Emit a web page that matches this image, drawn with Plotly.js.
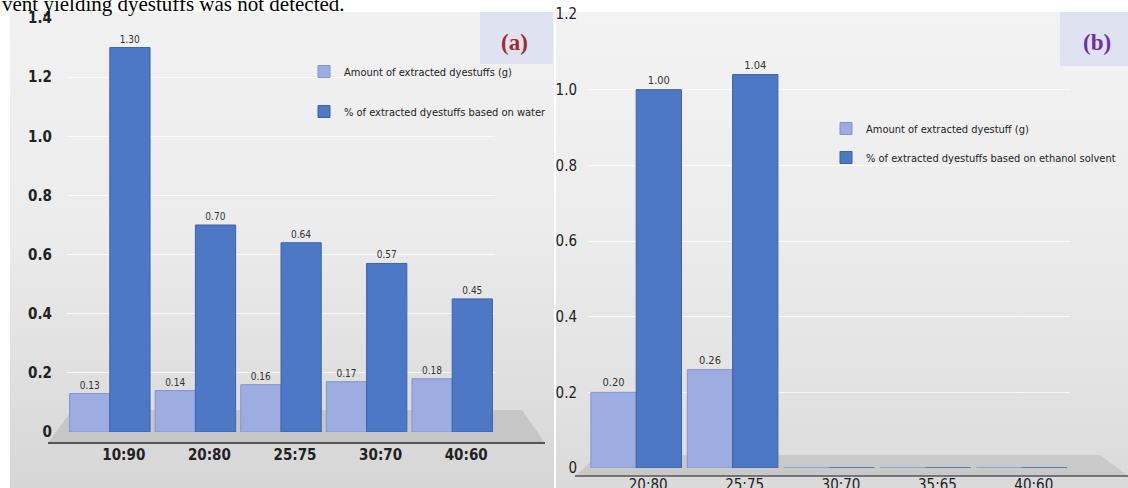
<!DOCTYPE html>
<html>
<head>
<meta charset="utf-8">
<script src="https://cdn.plot.ly/plotly-3.0.1.min.js"></script>
<style>
  html, body { margin: 0; padding: 0; background: #ffffff; width: 1128px; height: 488px; overflow: hidden; }
  #bgA { position: absolute; left: 10px; top: 12px; width: 544px; height: 476px;
         background: linear-gradient(180deg, #f1f1f1 0%, #ececec 45%, #dedede 80%, #d6d6d6 100%); }
  #bgB { position: absolute; left: 556px; top: 12px; width: 572px; height: 476px;
         background: linear-gradient(180deg, #f3f3f3 0%, #ececec 45%, #e2e2e2 80%, #dadada 100%); }
  #chart { position: absolute; left: 0; top: 0; width: 1128px; height: 488px; }
</style>
</head>
<body>
<div id="bgA"></div>
<div id="bgB"></div>
<div id="chart"></div>
<script>
// Panel (a)
const categoriesA = ['10:90', '20:80', '25:75', '30:70', '40:60'];
const amountA = [0.13, 0.14, 0.16, 0.17, 0.18];
const percentA = [1.30, 0.70, 0.64, 0.57, 0.45];
const seriesNamesA = ['Amount of extracted dyestuffs (g)', '% of extracted dyestuffs based on water'];

// Panel (b)
const categoriesB = ['20:80', '25:75', '30:70', '35:65', '40:60'];
const amountB = [0.20, 0.26, 0, 0, 0];
const percentB = [1.00, 1.04, 0, 0, 0];
const seriesNamesB = ['Amount of extracted dyestuff (g)', '% of extracted dyestuffs based on ethanol solvent'];

const tickValsA = [0, 0.2, 0.4, 0.6, 0.8, 1.0, 1.2, 1.4];
const tickTextA = ['0', '0.2', '0.4', '0.6', '0.8', '1.0', '1.2', '1.4'];
const tickValsB = [0, 0.2, 0.4, 0.6, 0.8, 1.0, 1.2];
const tickTextB = ['0', '0.2', '0.4', '0.6', '0.8', '1.0', '1.2'];

const LIGHT = '#9dade2';
const DARK = '#4d78c6';
const FONT = '"DejaVu Sans Condensed", "DejaVu Sans", sans-serif';
const SERIF = '"Liberation Serif", "DejaVu Serif", serif';
const lbl = arr => arr.map(v => v > 0 ? v.toFixed(2) : '');

const W = 1128, H = 488;
const px = x => x / W;
const py = y => (H - y) / H;

function barTrace(cats, vals, name, xa, ya, color, lineColor, lg, group, fs) {
  return { type: 'bar', x: cats, y: vals, name: name, xaxis: xa, yaxis: ya,
    marker: { color: color, line: { color: lineColor, width: 1 } },
    text: lbl(vals), textposition: 'outside', cliponaxis: false,
    textfont: { family: FONT, size: fs, color: '#333' },
    legend: lg, legendgroup: group };
}

const traces = [
  barTrace(categoriesA, amountA, seriesNamesA[0], 'x', 'y', LIGHT, '#8294d0', 'legend', 'a1', 10),
  barTrace(categoriesA, percentA, seriesNamesA[1], 'x', 'y', DARK, '#3d62a8', 'legend', 'a2', 10),
  barTrace(categoriesB, amountB, seriesNamesB[0], 'x2', 'y2', LIGHT, '#8294d0', 'legend2', 'b1', 11),
  barTrace(categoriesB, percentB, seriesNamesB[1], 'x2', 'y2', DARK, '#3d62a8', 'legend2', 'b2', 11)
];

const layout = {
  width: W, height: H,
  margin: { l: 0, r: 0, t: 0, b: 0 },
  paper_bgcolor: 'rgba(0,0,0,0)',
  plot_bgcolor: 'rgba(0,0,0,0)',
  barmode: 'group',
  bargap: 0.06,
  bargroupgap: 0,
  font: { family: FONT, color: '#222' },
  xaxis: {
    domain: [px(67), px(495)], anchor: 'y',
    tickfont: { family: FONT, size: 15, color: '#222', weight: 'bold' },
    ticks: '', showline: false,
    ticklabelstandoff: 12, ticklabelshift: 14
  },
  yaxis: {
    domain: [py(432), py(18)], anchor: 'x', range: [0, 1.4],
    tickvals: tickValsA, ticktext: tickTextA,
    tickfont: { family: FONT, size: 15, color: '#222', weight: 'bold' },
    showgrid: true, gridcolor: 'rgba(255,255,255,0.75)', gridwidth: 1,
    zeroline: false, showline: false, ticks: '', ticklabelstandoff: 14
  },
  xaxis2: {
    domain: [px(588), px(1070)], anchor: 'y2',
    tickfont: { family: FONT, size: 15, color: '#222' },
    ticks: '', showline: false,
    ticklabelstandoff: 6, ticklabelshift: 12
  },
  yaxis2: {
    domain: [py(468), py(14)], anchor: 'x2', range: [0, 1.2],
    tickvals: tickValsB, ticktext: tickTextB,
    tickfont: { family: FONT, size: 15, color: '#222' },
    showgrid: true, gridcolor: 'rgba(255,255,255,0.75)', gridwidth: 1,
    zeroline: false, showline: false, ticks: '', ticklabelstandoff: 10
  },
  legend: {
    x: px(304), y: py(57), xanchor: 'left', yanchor: 'top',
    bgcolor: 'rgba(0,0,0,0)', tracegroupgap: 21,
    font: { family: FONT, size: 11, color: '#222' },
    itemwidth: 30
  },
  legend2: {
    x: px(826), y: py(114), xanchor: 'left', yanchor: 'top',
    bgcolor: 'rgba(0,0,0,0)', tracegroupgap: 10,
    font: { family: FONT, size: 11, color: '#222' },
    itemwidth: 30
  },
  showlegend: true,
  shapes: [
    { type: 'path', xref: 'paper', yref: 'paper', layer: 'below',
      path: `M ${px(48)} ${py(443)} L ${px(545)} ${py(443)} L ${px(522)} ${py(410)} L ${px(72)} ${py(410)} Z`,
      fillcolor: '#c6c6c6', line: { width: 0 } },
    { type: 'line', xref: 'paper', yref: 'paper', layer: 'below',
      x0: px(48), x1: px(545), y0: py(443), y1: py(443), line: { color: '#555', width: 2 } },
    { type: 'path', xref: 'paper', yref: 'paper', layer: 'below',
      path: `M ${px(575)} ${py(476)} L ${px(1128)} ${py(476)} L ${px(1100)} ${py(455)} L ${px(598)} ${py(455)} Z`,
      fillcolor: '#c9c9c9', line: { width: 0 } },
    { type: 'line', xref: 'paper', yref: 'paper', layer: 'below',
      x0: px(575), x1: px(1128), y0: py(476), y1: py(476), line: { color: '#555', width: 1.5 } },
    { type: 'rect', xref: 'paper', yref: 'paper', x0: px(480), x1: px(553), y0: py(64), y1: py(12),
      fillcolor: '#dfe3f1', line: { width: 0 }, layer: 'below' },
    { type: 'rect', xref: 'paper', yref: 'paper', x0: px(1060), x1: px(1128), y0: py(66), y1: py(12),
      fillcolor: '#dfe3f1', line: { width: 0 }, layer: 'below' }
  ],
  annotations: [
    { xref: 'paper', yref: 'paper', x: px(514), y: py(42), xanchor: 'center', yanchor: 'middle',
      text: '<b>(a)</b>', showarrow: false, font: { family: SERIF, size: 23, color: '#a32a2a' } },
    { xref: 'paper', yref: 'paper', x: px(1097), y: py(42), xanchor: 'center', yanchor: 'middle',
      text: '<b>(b)</b>', showarrow: false, font: { family: SERIF, size: 23, color: '#7030a0' } },
    { xref: 'paper', yref: 'paper', x: 0, y: py(18), xanchor: 'left', yanchor: 'bottom',
      text: 'vent yielding dyestuffs was not detected.', showarrow: false,
      font: { family: SERIF, size: 21, color: '#000' } }
  ]
};

Plotly.newPlot('chart', traces, layout, { displayModeBar: false, staticPlot: true });
</script>
</body>
</html>
